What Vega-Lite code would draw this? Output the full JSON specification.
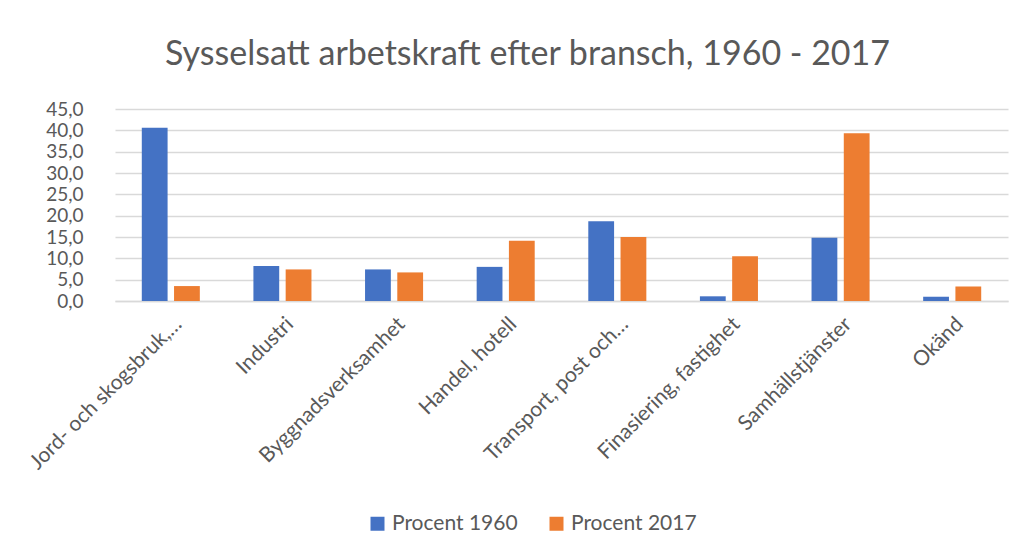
{
  "$schema": "https://vega.github.io/schema/vega-lite/v6.json",
  "width": 893,
  "height": 192,
  "autosize": {"type": "none"},
  "padding": {"left": 115, "top": 109, "right": 28, "bottom": 254},
  "background": "white",
  "title": {
    "text": "Sysselsatt arbetskraft efter bransch, 1960 - 2017",
    "font": "Lato",
    "fontSize": 34,
    "fontWeight": "normal",
    "color": "#595959",
    "anchor": "middle",
    "baseline": "alphabetic",
    "offset": 1,
    "dx": -34
  },
  "data": {
    "values": [
      {"bransch": "Jord- och skogsbruk,…", "serie": "Procent 1960", "procent": 40.6},
      {"bransch": "Jord- och skogsbruk,…", "serie": "Procent 2017", "procent": 3.5},
      {"bransch": "Industri", "serie": "Procent 1960", "procent": 8.2},
      {"bransch": "Industri", "serie": "Procent 2017", "procent": 7.4},
      {"bransch": "Byggnadsverksamhet", "serie": "Procent 1960", "procent": 7.4},
      {"bransch": "Byggnadsverksamhet", "serie": "Procent 2017", "procent": 6.7},
      {"bransch": "Handel, hotell", "serie": "Procent 1960", "procent": 8.0},
      {"bransch": "Handel, hotell", "serie": "Procent 2017", "procent": 14.1},
      {"bransch": "Transport, post och…", "serie": "Procent 1960", "procent": 18.7},
      {"bransch": "Transport, post och…", "serie": "Procent 2017", "procent": 15.0},
      {"bransch": "Finasiering, fastighet", "serie": "Procent 1960", "procent": 1.1},
      {"bransch": "Finasiering, fastighet", "serie": "Procent 2017", "procent": 10.5},
      {"bransch": "Samhällstjänster", "serie": "Procent 1960", "procent": 14.8},
      {"bransch": "Samhällstjänster", "serie": "Procent 2017", "procent": 39.3},
      {"bransch": "Okänd", "serie": "Procent 1960", "procent": 1.0},
      {"bransch": "Okänd", "serie": "Procent 2017", "procent": 3.4}
    ]
  },
  "mark": {"type": "bar"},
  "encoding": {
    "x": {
      "field": "bransch",
      "type": "nominal",
      "sort": null,
      "title": null,
      "scale": {"paddingInner": 0.48, "paddingOuter": 0.24},
      "axis": {
        "labelAngle": -45,
        "labelFont": "Lato",
        "labelFontSize": 21,
        "labelColor": "#595959",
        "labelPadding": 12,
        "labelLimit": 400,
        "ticks": false,
        "tickSize": 0,
        "domainColor": "#d9d9d9",
        "domainWidth": 1.5,
        "grid": false
      }
    },
    "xOffset": {
      "field": "serie",
      "type": "nominal",
      "scale": {"paddingInner": 0.2, "paddingOuter": 0}
    },
    "y": {
      "field": "procent",
      "type": "quantitative",
      "title": null,
      "scale": {"domain": [0, 45], "nice": false},
      "axis": {
        "values": [0, 5, 10, 15, 20, 25, 30, 35, 40, 45],
        "labelExpr": "replace(format(datum.value, '.1f'), '.', ',')",
        "labelFont": "Lato",
        "labelFontSize": 19,
        "labelColor": "#595959",
        "labelPadding": 32,
        "ticks": false,
        "tickSize": 0,
        "domain": false,
        "grid": true,
        "gridColor": "#d9d9d9",
        "gridWidth": 1.5
      }
    },
    "color": {
      "field": "serie",
      "type": "nominal",
      "title": null,
      "scale": {"domain": ["Procent 1960", "Procent 2017"], "range": ["#4472C4", "#ED7D31"]},
      "legend": {
        "orient": "none",
        "direction": "horizontal",
        "legendX": 252,
        "legendY": 404,
        "symbolType": "square",
        "symbolSize": 196,
        "symbolStrokeWidth": 0,
        "labelFont": "Lato",
        "labelFontSize": 21,
        "labelColor": "#595959",
        "labelOffset": 4,
        "columnPadding": 28,
        "labelLimit": 300
      }
    }
  },
  "config": {
    "view": {"stroke": null}
  }
}
